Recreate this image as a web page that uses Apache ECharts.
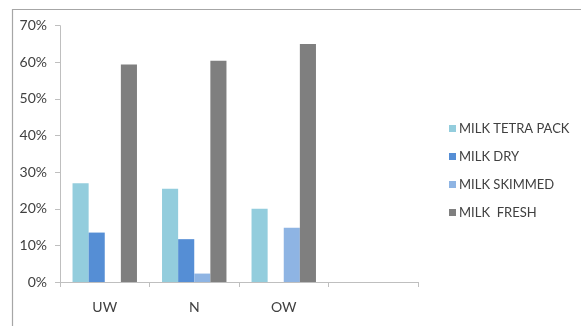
<!DOCTYPE html>
<html><head><meta charset="utf-8">
<script src="https://cdn.jsdelivr.net/npm/echarts@6/dist/echarts.min.js"></script>
<style>html,body{margin:0;padding:0;background:#fff}#c{width:581px;height:326px}</style>
</head><body><div id="c"></div>
<script>
const categories = ['UW', 'N', 'OW', ''];
const seriesNames = ['MILK TETRA PACK', 'MILK DRY', 'MILK SKIMMED', 'MILK  FRESH'];
const tetraPack = [27, 25.5, 20, null];
const dry = [13.5, 11.7, null, null];
const skimmed = [null, 2.3, 14.8, null];
const fresh = [59.4, 60.4, 65, null];
const yTicks = [0, 10, 20, 30, 40, 50, 60, 70];

const colors = ['#93CDDD', '#558ED5', '#8EB4E3', '#7F7F7F'];
const values = [tetraPack, dry, skimmed, fresh];
const font = 'Lato, "Liberation Sans", sans-serif';

const chart = echarts.init(document.getElementById('c'), null, {renderer: 'canvas'});
chart.setOption({
  animation: false,
  color: colors,
  graphic: [{
    type: 'rect', left: 10, top: 7, silent: true,
    shape: {width: 590, height: 340},
    style: {fill: 'none', stroke: '#A6A6A6', lineWidth: 1.2}
  }],
  grid: {left: 60, top: 25.7, right: 163, bottom: 44, containLabel: false},
  legend: {
    orient: 'vertical', left: 444, top: 116,
    itemWidth: 7, itemHeight: 7, itemGap: 13,
    icon: 'rect',
    textStyle: {fontFamily: font, fontSize: 13, color: '#404040', lineHeight: 15, padding: [0, 0, 0, -2]},
    data: seriesNames
  },
  xAxis: {
    type: 'category', data: categories,
    axisLine: {lineStyle: {color: '#BFBFBF'}},
    axisTick: {show: true, length: 5, lineStyle: {color: '#BFBFBF'}},
    axisLabel: {fontFamily: font, fontSize: 14, color: '#404040', margin: 18}
  },
  yAxis: {
    type: 'value', min: yTicks[0], max: yTicks[yTicks.length - 1], interval: 10,
    axisLine: {show: true, lineStyle: {color: '#BFBFBF'}},
    axisTick: {show: true, length: 5, lineStyle: {color: '#BFBFBF'}},
    splitLine: {show: false},
    axisLabel: {fontFamily: font, fontSize: 14, color: '#404040', margin: 13, formatter: '{value}%'}
  },
  series: seriesNames.map((n, i) => ({
    name: n, type: 'bar', data: values[i],
    barGap: '0%', barCategoryGap: '28%',
    itemStyle: {color: colors[i]}
  }))
});
</script></body></html>
